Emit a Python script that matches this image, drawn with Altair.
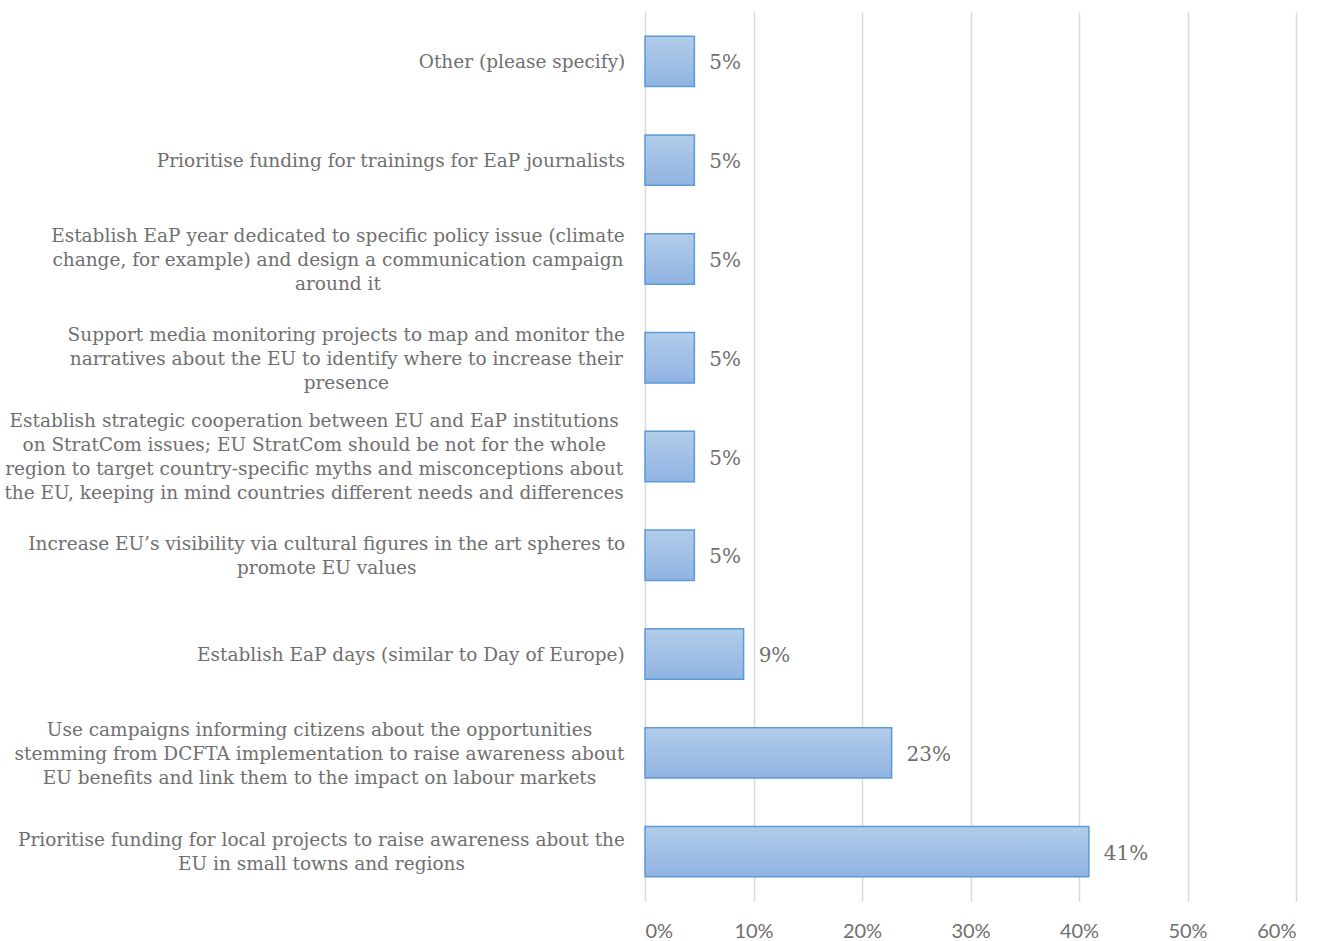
import altair as alt
import pandas as pd

categories = [
    "Other (please specify)",
    "Prioritise funding for trainings for EaP journalists",
    "Establish EaP year dedicated to specific policy issue (climate|change, for example) and design a communication campaign|around it",
    "Support media monitoring projects to map and monitor the|narratives about the EU to identify where to increase their|presence",
    "Establish strategic cooperation between EU and EaP institutions|on StratCom issues; EU StratCom should be not for the whole|region to target country-specific myths and misconceptions about|the EU, keeping in mind countries different needs and differences",
    "Increase EU\u2019s visibility via cultural figures in the art spheres to|promote EU values",
    "Establish EaP days (similar to Day of Europe)",
    "Use campaigns informing citizens about the opportunities|stemming from DCFTA implementation to raise awareness about|EU benefits and link them to the impact on labour markets",
    "Prioritise funding for local projects to raise awareness about the|EU in small towns and regions",
]
values = [0.0455, 0.0455, 0.0455, 0.0455, 0.0455, 0.0455, 0.0909, 0.2273, 0.4091]
labels = ["5%", "5%", "5%", "5%", "5%", "5%", "9%", "23%", "41%"]

grey = "#6f6f6f"
serif = "DejaVu Serif"
LABEL_SIZE = 18.5
LINE_H = 24
HALF_BAND = 26
LABEL_GAP = 20

# approximate DejaVu Serif advance widths (em), used to centre each
# wrapped label block so its widest line ends at the same right edge
_W = {
    " ": .318, "a": .596, "b": .640, "c": .560, "d": .640, "e": .592, "f": .370,
    "g": .640, "h": .644, "i": .320, "j": .310, "k": .606, "l": .320, "m": .948,
    "n": .644, "o": .602, "p": .640, "q": .640, "r": .478, "s": .513, "t": .402,
    "u": .644, "v": .565, "w": .856, "x": .564, "y": .565, "z": .527,
    "E": .730, "U": .812, "P": .675, "A": .722, "D": .830, "C": .734, "F": .694,
    "T": .681, "S": .685, "I": .372, "O": .787, "R": .736, "M": .996,
    ",": .318, ";": .337, "-": .338, "\u2019": .318, "(": .390, ")": .390,
}


def text_width(s):
    return sum(_W.get(ch, .72 if ch.isupper() else .6) for ch in s) * LABEL_SIZE


block_w = [max(text_width(line) for line in c.split("|")) for c in categories]
label_x = [-LABEL_GAP - w / 2 for w in block_w]

df = pd.DataFrame({"cat": categories, "val": values, "lab": labels, "lx": label_x})

y_enc = alt.Y(
    "cat:N",
    sort=categories,
    title=None,
    scale=alt.Scale(paddingInner=0.49, paddingOuter=0.245),
    axis=None,
)

x_enc = alt.X(
    "val:Q",
    title=None,
    scale=alt.Scale(domain=[0, 0.6], nice=False),
    axis=alt.Axis(
        format=".0%",
        values=[0, 0.1, 0.2, 0.3, 0.4, 0.5, 0.6],
        domain=False,
        ticks=False,
        grid=True,
        gridColor="#d9d9d9",
        gridWidth=1.5,
        labelFont="Lato",
        labelFontSize=20,
        labelColor=grey,
        labelPadding=20,
    ),
)

bars = alt.Chart(df).mark_bar(
    fill={
        "gradient": "linear",
        "x1": 0, "y1": 0, "x2": 0, "y2": 1,
        "stops": [
            {"offset": 0, "color": "#b3cdea"},
            {"offset": 1, "color": "#8fb3e2"},
        ],
    },
    stroke="#5b9bd5",
    strokeWidth=1.5,
).encode(x=x_enc, y=y_enc)

text = alt.Chart(df).mark_text(
    align="left", baseline="middle", dx=15, dy=2, font=serif, fontSize=20, color=grey
).encode(x="val:Q", y=alt.Y("cat:N", sort=categories), text="lab:N")

cat_labels = alt.Chart(df).transform_calculate(
    off=f"{HALF_BAND} - (length(split(datum.cat, '|')) - 1) * {LINE_H / 2}"
).mark_text(
    align="center", baseline="middle", lineBreak="|", lineHeight=LINE_H,
    font=serif, fontSize=LABEL_SIZE, color=grey,
).encode(
    x=alt.X("lx:Q", scale=None, axis=None),
    y=alt.Y("cat:N", sort=categories),
    yOffset=alt.YOffset("off:Q", scale=None),
    text="cat:N",
)

chart = (bars + text + cat_labels).properties(
    width=651,
    height=889,
    autosize=alt.AutoSizeParams(type="none"),
    padding={"left": 645, "top": 12, "right": 35, "bottom": 40},
).configure_view(stroke=None)

chart.save("out.html", embed_options={"renderer": "svg", "actions": False})
